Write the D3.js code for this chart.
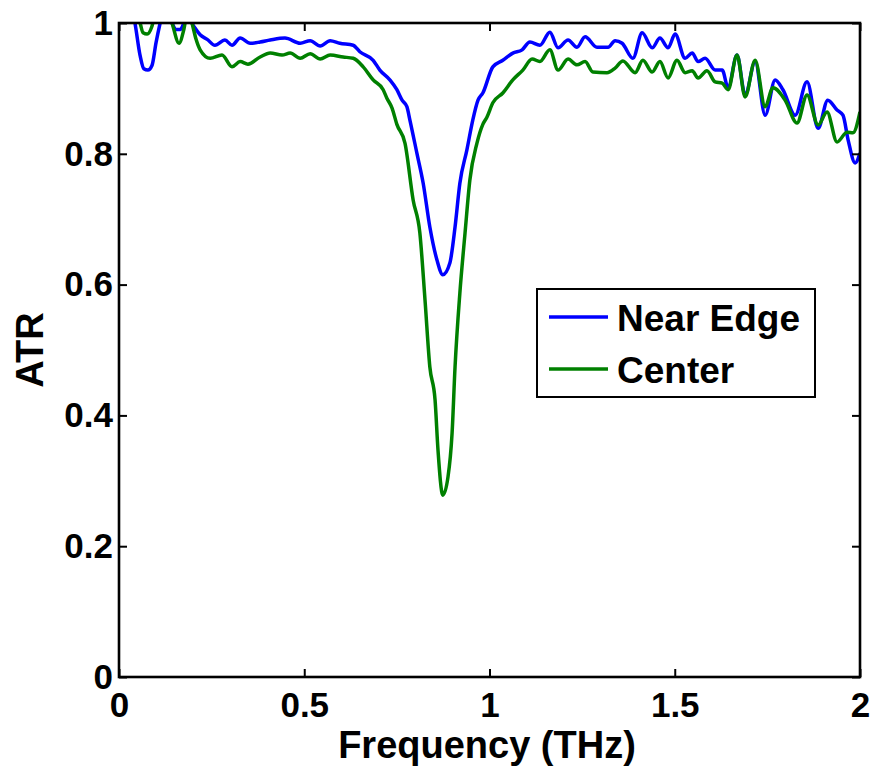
<!DOCTYPE html>
<html>
<head>
<meta charset="utf-8">
<script src="https://cdn.jsdelivr.net/npm/d3@7"></script>
<style>
  html, body { margin: 0; padding: 0; background: #fff; }
  svg { display: block; }
  text { font-family: "Liberation Sans", Arial, sans-serif; font-weight: bold; fill: #000; }
</style>
</head>
<body>
<svg id="chart" width="874" height="768"></svg>
<script>
// ---- data ----
const xTicks = [0, 0.5, 1, 1.5, 2];
const xTickLabels = ["0", "0.5", "1", "1.5", "2"];
const yTicks = [0, 0.2, 0.4, 0.6, 0.8, 1];
const yTickLabels = ["0", "0.2", "0.4", "0.6", "0.8", "1"];
const seriesNames = ["Near Edge", "Center"];
const seriesColors = ["#0000ff", "#008000"];

const edgeFreq = [0.019, 0.043, 0.057, 0.067, 0.078, 0.089, 0.100, 0.111, 0.124, 0.143, 0.154, 0.165, 0.175, 0.186, 0.197, 0.208, 0.219, 0.238, 0.259, 0.286, 0.305, 0.327, 0.354, 0.381, 0.408, 0.448, 0.489, 0.516, 0.543, 0.570, 0.596, 0.632, 0.650, 0.686, 0.704, 0.731, 0.750, 0.764, 0.777, 0.785, 0.804, 0.821, 0.839, 0.858, 0.874, 0.893, 0.907, 0.920, 0.939, 0.955, 0.969, 0.982, 1.009, 1.036, 1.063, 1.088, 1.109, 1.136, 1.163, 1.185, 1.212, 1.236, 1.258, 1.290, 1.320, 1.339, 1.358, 1.387, 1.412, 1.439, 1.460, 1.482, 1.501, 1.528, 1.547, 1.563, 1.582, 1.609, 1.628, 1.644, 1.668, 1.690, 1.717, 1.744, 1.771, 1.792, 1.825, 1.857, 1.887, 1.913, 1.938, 1.954, 1.968, 1.987, 2.000];
const edgeATR = [1.05, 1.00, 0.95, 0.93, 0.928, 0.935, 0.97, 1.00, 1.03, 1.00, 0.99, 0.99, 1.00, 1.02, 1.00, 0.99, 0.982, 0.975, 0.966, 0.974, 0.966, 0.977, 0.969, 0.971, 0.974, 0.977, 0.969, 0.973, 0.965, 0.973, 0.969, 0.966, 0.956, 0.943, 0.928, 0.913, 0.898, 0.882, 0.872, 0.852, 0.801, 0.755, 0.688, 0.638, 0.615, 0.633, 0.688, 0.755, 0.806, 0.852, 0.882, 0.893, 0.933, 0.943, 0.954, 0.959, 0.971, 0.966, 0.986, 0.962, 0.974, 0.963, 0.979, 0.963, 0.963, 0.973, 0.969, 0.946, 0.985, 0.962, 0.977, 0.962, 0.983, 0.946, 0.954, 0.941, 0.946, 0.928, 0.928, 0.901, 0.951, 0.890, 0.941, 0.859, 0.913, 0.898, 0.859, 0.910, 0.839, 0.882, 0.867, 0.859, 0.821, 0.786, 0.801];

const centerFreq = [0.043, 0.057, 0.065, 0.076, 0.089, 0.100, 0.124, 0.143, 0.162, 0.175, 0.186, 0.197, 0.208, 0.219, 0.246, 0.278, 0.305, 0.327, 0.348, 0.381, 0.408, 0.440, 0.462, 0.489, 0.516, 0.543, 0.570, 0.605, 0.632, 0.659, 0.686, 0.713, 0.723, 0.737, 0.750, 0.772, 0.794, 0.812, 0.826, 0.839, 0.853, 0.861, 0.874, 0.888, 0.899, 0.907, 0.920, 0.934, 0.947, 0.966, 0.982, 0.993, 1.009, 1.036, 1.063, 1.090, 1.115, 1.136, 1.163, 1.185, 1.212, 1.236, 1.258, 1.279, 1.317, 1.339, 1.360, 1.393, 1.414, 1.439, 1.460, 1.482, 1.506, 1.528, 1.547, 1.563, 1.587, 1.609, 1.628, 1.644, 1.668, 1.690, 1.717, 1.744, 1.765, 1.798, 1.830, 1.857, 1.887, 1.911, 1.938, 1.965, 1.981, 2.000];
const centerATR = [1.03, 1.00, 0.985, 0.983, 0.995, 1.02, 1.03, 1.00, 0.969, 0.99, 1.02, 1.00, 0.975, 0.959, 0.946, 0.951, 0.933, 0.941, 0.937, 0.948, 0.954, 0.951, 0.954, 0.946, 0.953, 0.945, 0.951, 0.948, 0.946, 0.933, 0.913, 0.898, 0.885, 0.870, 0.845, 0.816, 0.729, 0.679, 0.576, 0.474, 0.424, 0.347, 0.278, 0.306, 0.373, 0.474, 0.587, 0.679, 0.760, 0.816, 0.845, 0.856, 0.878, 0.893, 0.913, 0.928, 0.945, 0.941, 0.959, 0.928, 0.945, 0.936, 0.941, 0.925, 0.924, 0.931, 0.942, 0.924, 0.943, 0.925, 0.941, 0.916, 0.943, 0.924, 0.927, 0.916, 0.927, 0.910, 0.908, 0.898, 0.951, 0.887, 0.943, 0.872, 0.901, 0.882, 0.847, 0.890, 0.844, 0.864, 0.818, 0.833, 0.832, 0.864];

// ---- layout ----
const svg = d3.select("#chart");
const L = 119, R = 860, T = 23, B = 677;
const x = d3.scaleLinear().domain([0, 2]).range([L, R]);
const y = d3.scaleLinear().domain([0, 1]).range([B, T]);

svg.append("defs").append("clipPath").attr("id", "plotclip")
  .append("rect").attr("x", L).attr("y", T).attr("width", R - L).attr("height", B - T);

const line = d3.line().x(d => x(d[0])).y(d => y(d[1])).curve(d3.curveMonotoneX);
const series = [
  d3.zip(edgeFreq, edgeATR),
  d3.zip(centerFreq, centerATR)
];

const plot = svg.append("g").attr("clip-path", "url(#plotclip)");
series.forEach((s, i) => {
  plot.append("path").datum(s)
    .attr("d", line)
    .attr("fill", "none")
    .attr("stroke", seriesColors[i])
    .attr("stroke-width", 3.5)
    .attr("stroke-linejoin", "round");
});

// ---- axes ----
const tickLen = 8;
const fs = 35;
const gx = svg.append("g").attr("transform", `translate(0,${B})`)
  .call(d3.axisBottom(x).tickValues(xTicks).tickFormat((d, i) => xTickLabels[i]).tickSizeInner(-tickLen).tickSizeOuter(0).tickPadding(15));
const gy = svg.append("g").attr("transform", `translate(${L},0)`)
  .call(d3.axisLeft(y).tickValues(yTicks).tickFormat((d, i) => yTickLabels[i]).tickSizeInner(-tickLen).tickSizeOuter(0).tickPadding(6));
const gt = svg.append("g").attr("transform", `translate(0,${T})`)
  .call(d3.axisTop(x).tickValues(xTicks).tickFormat("").tickSizeInner(-tickLen).tickSizeOuter(0));
const gr = svg.append("g").attr("transform", `translate(${R},0)`)
  .call(d3.axisRight(y).tickValues(yTicks).tickFormat("").tickSizeInner(-tickLen).tickSizeOuter(0));

[gx, gy, gt, gr].forEach(g => {
  g.select(".domain").remove();
  g.selectAll(".tick line").attr("stroke", "#000").attr("stroke-width", 2);
  g.selectAll(".tick text").attr("font-size", fs).attr("font-family", "Liberation Sans, Arial, sans-serif")
    .attr("font-weight", "bold").attr("fill", "#000");
});

svg.append("rect").attr("x", L).attr("y", T).attr("width", R - L).attr("height", B - T)
  .attr("fill", "none").attr("stroke", "#000").attr("stroke-width", 2.6);

// axis titles
svg.append("text").attr("x", 487).attr("y", 758).attr("text-anchor", "middle")
  .attr("font-size", 38).text("Frequency (THz)");
svg.append("text").attr("transform", `translate(43,${(T + B) / 2}) rotate(-90)`).attr("text-anchor", "middle")
  .attr("font-size", 38).text("ATR");

// ---- legend ----
const lg = svg.append("g");
lg.append("rect").attr("x", 537).attr("y", 289).attr("width", 278).attr("height", 108)
  .attr("fill", "#fff").attr("stroke", "#000").attr("stroke-width", 2);
seriesNames.forEach((n, i) => {
  const yy = 317 + i * 52;
  lg.append("line").attr("x1", 549).attr("x2", 608).attr("y1", yy).attr("y2", yy)
    .attr("stroke", seriesColors[i]).attr("stroke-width", 3.5);
  lg.append("text").attr("x", 617).attr("y", yy + 14).attr("font-size", 37).text(n);
});
</script>
</body>
</html>
